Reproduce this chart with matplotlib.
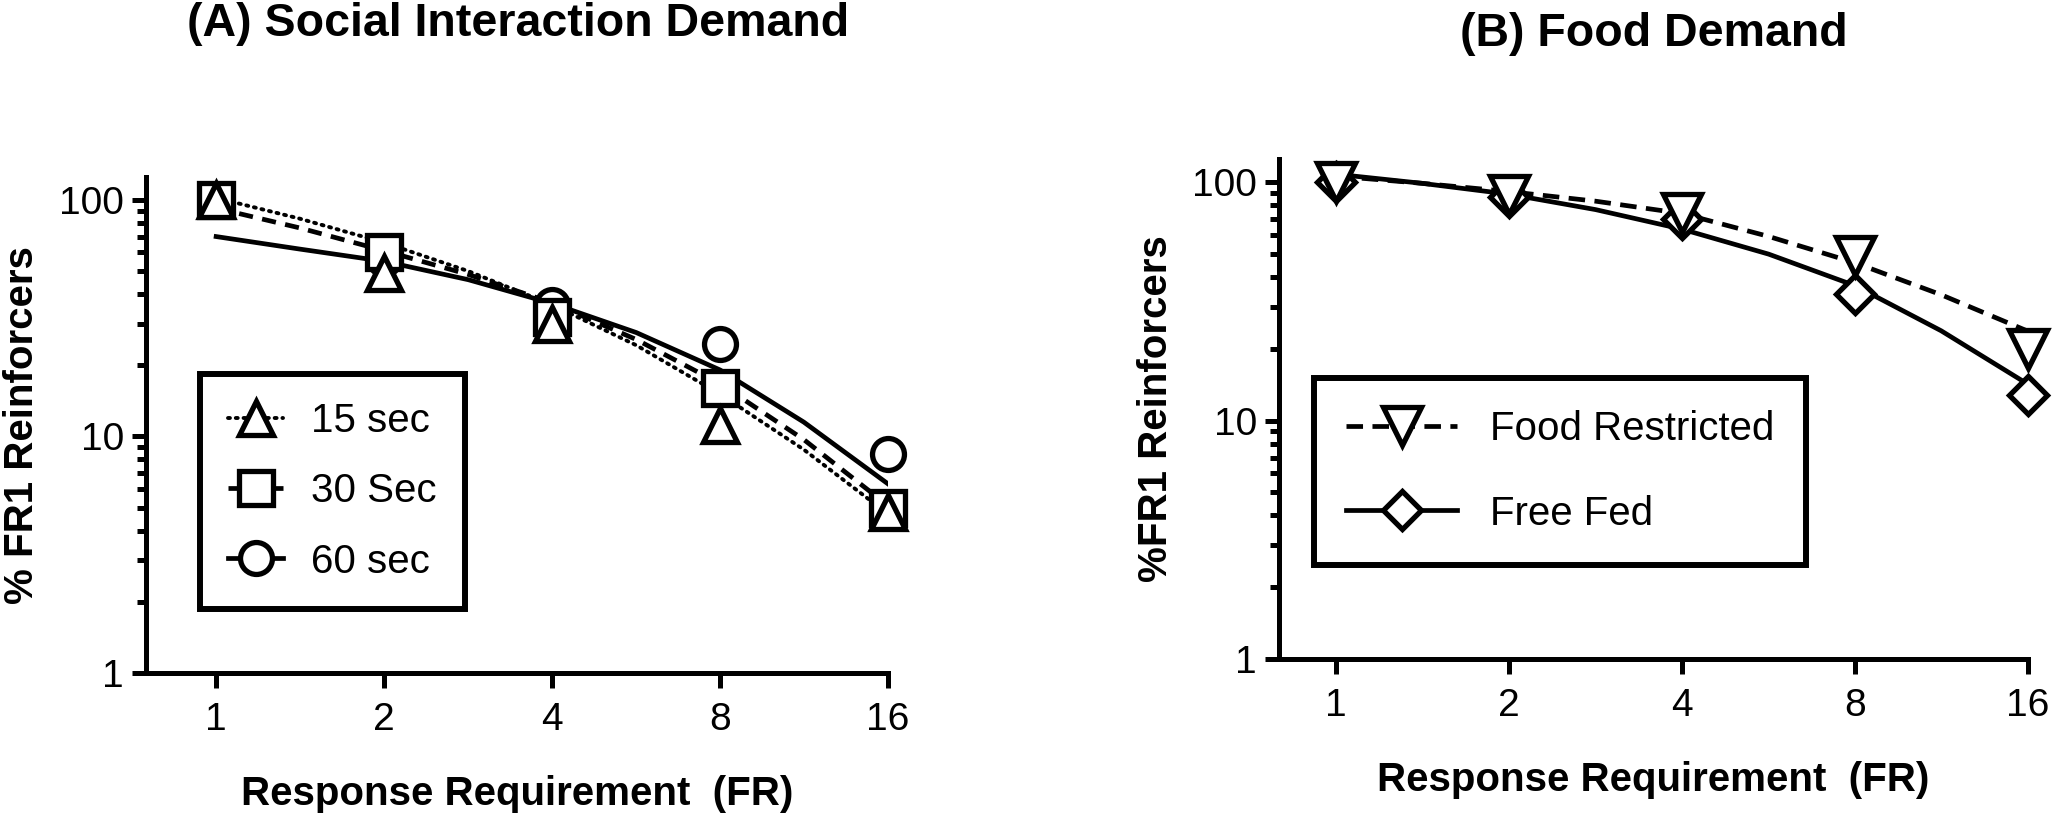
import matplotlib
matplotlib.use('Agg')
import matplotlib.pyplot as plt
from matplotlib.lines import Line2D
from matplotlib.ticker import FixedLocator, FixedFormatter, LogLocator, NullFormatter, NullLocator

plt.rcParams['font.family'] = ['Liberation Sans', 'DejaVu Sans']

# x values (fixed ratio requirement)
fr = [1, 2, 4, 8, 16]
fr_labels = ['1', '2', '4', '8', '16']
fit_x = [1, 1.41, 2, 2.83, 4, 5.66, 8, 11.3, 16]

# (A) social interaction, % of FR1 reinforcers
soc_15 = [100, 49, 30, 11.2, 4.8]
soc_30 = [100, 60, 32, 16, 5.0]
soc_60 = [100, 56, 36, 24.5, 8.4]
fit_15 = [102, 83.4, 66, 50, 36, 24.3, 15.1, 8.8, 4.7]
fit_30 = [92.3, 76.2, 61, 48.4, 36.7, 25.7, 16.7, 9.7, 5.1]
fit_60 = [70, 62, 55, 46, 36.5, 27.5, 19.1, 11.5, 6.3]

# (B) food
food_r = [100, 88, 74, 49, 20]
food_f = [100, 87, 70, 34, 12.8]
fit_r = [106, 98.9, 91.3, 83.2, 73.9, 59.2, 45.9, 33.7, 23.7]
fit_f = [108, 98.9, 89, 76.7, 63.5, 49.9, 36.8, 23.8, 14.2]

FS = 29
LW = 3.4
MEW = 3.8

fig = plt.figure(figsize=(20.52, 8.16), dpi=100)
ax1 = fig.add_axes([0.0712, 0.1752, 0.3616, 0.6079])
ax2 = fig.add_axes([0.6233, 0.1924, 0.3650, 0.6127])

def style(ax, xmin):
    ax.set_xscale('log', base=2)
    ax.set_yscale('log')
    ax.set_xlim(xmin, 16)
    ax.set_ylim(1, 125)
    for s in ['top', 'right']:
        ax.spines[s].set_visible(False)
    for s in ['left', 'bottom']:
        ax.spines[s].set_linewidth(3.6)
    ax.xaxis.set_major_locator(FixedLocator(fr))
    ax.xaxis.set_major_formatter(FixedFormatter(fr_labels))
    ax.xaxis.set_minor_locator(NullLocator())
    ax.yaxis.set_major_locator(FixedLocator([1, 10, 100]))
    ax.yaxis.set_major_formatter(FixedFormatter(['1', '10', '100']))
    ax.yaxis.set_minor_locator(LogLocator(base=10, subs=range(2, 10)))
    ax.yaxis.set_minor_formatter(NullFormatter())
    ax.tick_params(axis='x', which='major', direction='out', length=11, width=3.6, labelsize=28, pad=10)
    ax.tick_params(axis='y', which='major', direction='out', length=10, width=3.6, labelsize=28, pad=6)
    ax.tick_params(axis='y', which='minor', direction='out', length=6.5, width=3.6)
    ax.set_xlabel('Response Requirement  (FR)', fontsize=FS, fontweight='bold')
    ax.xaxis.set_label_coords(0.5, -0.205)

mk = dict(markerfacecolor='white', markeredgecolor='black', markeredgewidth=MEW,
          linestyle='none', zorder=3, clip_on=False)
hk = dict(color='black', markerfacecolor='white', markeredgecolor='black', markeredgewidth=MEW)
dots = (0, (0.5, 1.5))

# panel A
style(ax1, 0.749)
ax1.plot(fit_x, fit_15, color='black', lw=2.8, linestyle=dots, dash_capstyle='round', zorder=2)
ax1.plot(fit_x, fit_30, color='black', lw=LW, linestyle=(0, (3, 2)), zorder=2)
ax1.plot(fit_x, fit_60, color='black', lw=LW, linestyle='-', zorder=2)
ax1.plot(fr, soc_60, marker='o', markersize=23, **mk)
ax1.plot(fr, soc_30, marker='s', markersize=24, **mk)
ax1.plot(fr, soc_15, marker='^', markersize=24, **mk)
ax1.set_ylabel('% FR1 Reinforcers', fontsize=FS, fontweight='bold')
ax1.yaxis.set_label_coords(-0.1415, 0.5)
h1 = [
    Line2D([], [], lw=2.8, linestyle=dots, dash_capstyle='round', marker='^', markersize=24, **hk),
    Line2D([], [], lw=LW, linestyle=(0, (3, 2)), marker='s', markersize=24, **hk),
    Line2D([], [], lw=LW, linestyle='-', marker='o', markersize=23, **hk),
]
leg1 = ax1.legend(h1, ['15 sec', '30 Sec', '60 sec'], loc='upper left', bbox_to_anchor=(0.0728, 0.603),
                  borderaxespad=0, fontsize=FS, frameon=True, fancybox=False, framealpha=1,
                  handlelength=1.35, handletextpad=0.7, borderpad=0.7, labelspacing=0.8)
leg1.get_frame().set_edgecolor('black')
leg1.get_frame().set_linewidth(4.3)

# panel B
style(ax2, 0.796)
ax2.plot(fit_x, fit_r, color='black', lw=LW, linestyle=(0, (3.5, 2)), zorder=2)
ax2.plot(fit_x, fit_f, color='black', lw=LW, linestyle='-', zorder=2)
ax2.plot(fr, food_f, marker='D', markersize=19, **mk)
ax2.plot(fr, food_r, marker='v', markersize=27, **mk)
ax2.set_ylabel('%FR1 Reinforcers', fontsize=FS, fontweight='bold')
ax2.yaxis.set_label_coords(-0.139, 0.5)
h2 = [
    Line2D([], [], lw=LW, linestyle=(0, (3.5, 2)), marker='v', markersize=27, **hk),
    Line2D([], [], lw=LW, linestyle='-', marker='D', markersize=19, **hk),
]
leg2 = ax2.legend(h2, ['Food Restricted', 'Free Fed'], loc='upper left', bbox_to_anchor=(0.0467, 0.562),
                  borderaxespad=0, fontsize=FS, frameon=True, fancybox=False, framealpha=1,
                  handlelength=2.76, handletextpad=0.8, borderpad=0.8, labelspacing=1.15)
leg2.get_frame().set_edgecolor('black')
leg2.get_frame().set_linewidth(4.3)

fig.text(518 / 2052, 1 - 24 / 816, '(A) Social Interaction Demand', ha='center', va='center',
         fontsize=33.5, fontweight='bold')
fig.text(1654 / 2052, 1 - 34 / 816, '(B) Food Demand', ha='center', va='center',
         fontsize=33.5, fontweight='bold')

fig.savefig('out.png', dpi=100)
